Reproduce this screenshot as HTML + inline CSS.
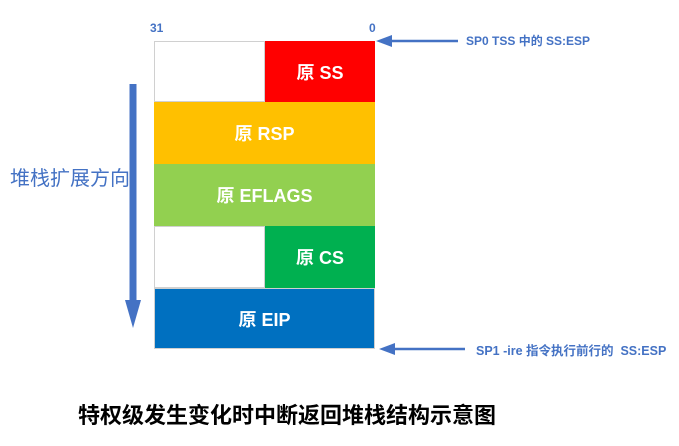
<!DOCTYPE html>
<html><head><meta charset="utf-8"><style>
body{margin:0;width:679px;height:446px;background:#fff;position:relative;font-family:"Liberation Sans","Noto Sans CJK SC",sans-serif;overflow:hidden}
.b{position:absolute;color:#fff;font-weight:bold;font-size:18px;display:flex;align-items:center;justify-content:center;box-sizing:border-box}
.t{position:absolute;color:#4472c4;font-weight:bold;white-space:nowrap}
</style></head><body>
<div class="b" style="left:154px;top:41px;width:111px;height:61px;border:1px solid #d0d0d0;background:#fff"></div>
<div class="b" style="left:265px;top:41px;width:110px;height:61px;background:#ff0000">原 SS</div>
<div class="b" style="left:154px;top:102px;width:221px;height:62px;background:#ffc000">原 RSP</div>
<div class="b" style="left:154px;top:164px;width:221px;height:62px;background:#92d050">原 EFLAGS</div>
<div class="b" style="left:154px;top:226px;width:111px;height:62px;border:1px solid #d0d0d0;background:#fff"></div>
<div class="b" style="left:265px;top:226px;width:110px;height:62px;background:#00b050">原 CS</div>
<div class="b" style="left:154px;top:288px;width:221px;height:61px;background:#0070c0;border:1px solid #d0d0d0">原 EIP</div>
<div class="t" style="left:150px;top:21px;font-size:12px">31</div>
<div class="t" style="left:369px;top:21px;font-size:12px">0</div>
<div class="t" style="left:466px;top:32px;font-size:12px">SP0 TSS 中的 SS:ESP</div>
<div class="t" style="left:476px;top:340px;font-size:12.5px">SP1 -ire 指令执行前行的&nbsp; SS:ESP</div>
<div class="t" style="left:10px;top:162px;font-size:20px;font-weight:normal">堆栈扩展方向</div>
<div style="position:absolute;left:78px;top:398px;font-size:22px;font-weight:bold;color:#000;white-space:nowrap">特权级发生变化时中断返回堆栈结构示意图</div>
<svg style="position:absolute;left:0;top:0" width="679" height="446">
<line x1="133" y1="84" x2="133" y2="300" stroke="#4472c4" stroke-width="7"/>
<polygon points="125,300 141,300 133,328" fill="#4472c4"/>
<line x1="390" y1="41" x2="458" y2="41" stroke="#4472c4" stroke-width="2.5"/>
<polygon points="376,41 392,35 392,47" fill="#4472c4"/>
<line x1="392" y1="349" x2="465" y2="349" stroke="#4472c4" stroke-width="2.5"/>
<polygon points="379,349 395,343 395,355" fill="#4472c4"/>
</svg>
</body></html>
